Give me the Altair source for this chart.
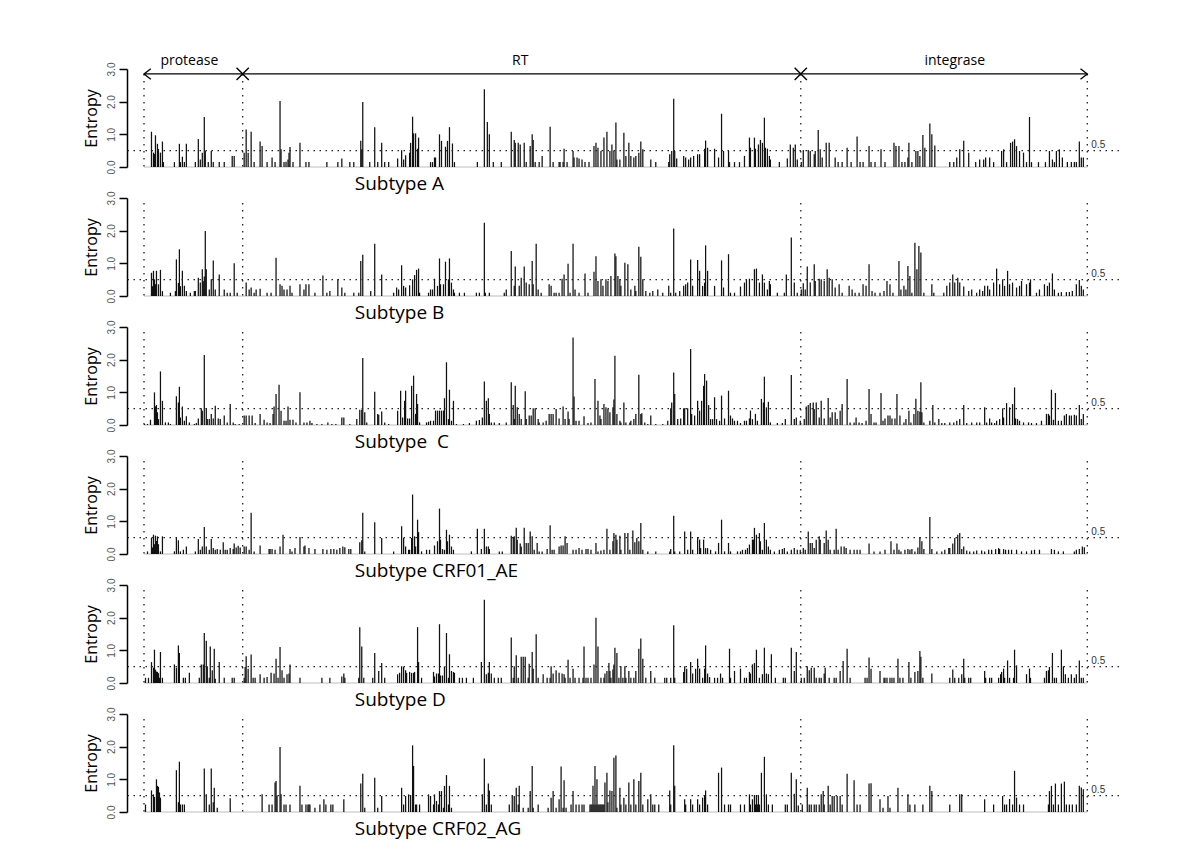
import altair as alt
import pandas as pd

# ---------------- data ----------------
SUBTYPE_LABELS = ["Subtype A", "Subtype B", "Subtype \u00a0C", "Subtype CRF01_AE",
                  "Subtype D", "Subtype CRF02_AG"]
REGION_BOUNDS = [0.5, 99.5, 659.5, 947]
REGION_NAMES = ["protease", "RT", "integrase"]
REGION_LABEL_POS = [46, 378, 814]
THRESHOLD = 0.5

ENTROPY_A = [
    (8,1.08),(10,0.44),(11,0.4),(12,0.97),(14,0.71),(15,0.55),(17,0.44),(19,0.78),(20,0.15),
    (31,0.15),(36,0.71),(37,0.15),(39,0.31),(41,0.15),(43,0.71),(52,0.15),(55,0.86),(57,0.23),(59,0.44),(61,1.53),(62,0.49),
    (65,0.15),(68,0.49),(70,0.15),(76,0.15),(81,0.15),(89,0.34),(91,0.34),
    (101,0.44),(103,1.15),(105,0.44),(108,1.08),(111,0.15),(117,0.78),(119,0.64),(124,0.15),(129,0.29),(132,0.15),(137,2.02),
    (138,0.54),(141,0.15),(143,0.16),(145,0.23),(146,0.44),(147,0.61),(150,0.15),(157,0.74),(163,0.15),(166,0.15),(184,0.15),
    (195,0.15),(199,0.26),(207,0.15),(211,0.15),(218,0.8),(219,0.54),(220,1.99),(227,0.15),(232,1.22),(235,0.15),(239,0.74),
    (242,0.15),(246,0.15),(255,0.26),(259,0.51),(261,0.23),(263,0.36),(267,0.44),(268,0.74),(270,1.54),(271,1.03),(273,1.03),
    (275,0.56),(276,0.9),(288,0.15),(290,0.15),(292,0.29),(293,0.29),(297,1.0),(299,0.8),(303,0.62),(305,0.8),(307,1.22),
    (310,0.72),(312,0.15),(335,0.15),(342,2.38),(345,1.38),(347,1.0),(351,0.15),(359,0.15),(369,1.08),(372,0.83),(373,0.74),
    (376,0.74),(378,0.69),(382,0.74),(384,0.15),(388,0.64),(390,1.0),(391,0.83),(393,0.15),(397,0.15),(400,0.34),(408,1.23),
    (411,0.15),(417,0.15),(418,0.15),(421,0.15),(422,0.56),(425,0.15),(431,0.49),(432,0.29),(435,0.29),(437,0.26),(440,0.23),
    (443,0.15),(447,0.15),(452,0.64),(454,0.74),
    (456,0.59),(459,0.49),(462,0.9),(465,1.08),(468,0.49),(470,0.69),(472,0.49),(474,1.36),(475,0.23),(478,0.23),(482,1.05),
    (484,0.34),(487,0.74),(489,0.34),(492,0.29),(494,0.34),(497,0.44),(499,0.78),(501,0.54),(509,0.23),(514,0.15),(527,0.15),
    (528,0.39),(530,0.49),(532,2.09),(533,0.49),(535,0.26),(542,0.34),(544,0.29),(547,0.23),(549,0.29),(552,0.34),(556,0.39),
    (558,0.39),(563,0.56),(564,0.81),(566,0.59),(573,0.56),(577,0.29),(580,1.63),(582,0.49),(587,0.49),(588,0.15),(593,0.15),
    (598,0.15),(603,0.34),(608,0.9),(609,0.59),(613,0.9),(614,0.56),(617,0.69),(619,0.83),(621,0.74),(623,1.51),(624,0.59),
    (626,0.56),(628,0.34),(629,0.23),(638,0.15),(646,0.26),(649,0.69),(652,0.59),(654,0.69),(656,0.23),(660,0.15),
    (662,0.52),(667,0.52),(669,0.49),(673,0.39),(674,0.49),(677,1.13),(679,0.54),(681,0.29),(685,0.74),(688,0.74),(694,0.29),
    (697,0.15),(701,0.15),(706,0.59),(710,0.15),(716,0.93),(719,0.15),(722,0.15),(728,0.64),(730,0.15),(734,0.15),(740,0.54),
    (744,0.15),(753,0.74),(755,0.64),(758,0.64),(761,0.15),(764,0.15),(767,0.29),(768,0.74),(771,0.15),(775,0.49),(777,0.49),
    (779,0.34),(782,0.98),(784,0.59),(789,1.33),(791,1.0),(794,0.66),(809,0.15),(813,0.15),(816,0.29),(819,0.54),(823,0.8),
    (828,0.44),(835,0.15),(839,0.23),(843,0.23),(845,0.29),(849,0.29),(853,0.15),(861,0.49),(863,0.54),(866,0.15),(870,0.74),
    (872,0.78),(874,0.85),(876,0.64),(879,0.49),(883,0.44),(886,0.15),(889,1.53),(891,0.15),(898,0.15),(905,0.15),(909,0.49),
    (912,0.23),(914,0.15),(916,0.49),(919,0.54),(922,0.29),(927,0.15),(931,0.15),(934,0.15),(936,0.15),(939,0.78),(941,0.29),
    (943,0.29),
]

ENTROPY_B = [
    (8,0.71),(9,0.3),(10,0.77),(11,0.51),(12,0.36),(13,0.77),(15,0.36),(17,0.8),(19,0.15),(27,0.1),(32,0.15),(33,1.12),(35,0.4),
    (36,1.43),(37,0.3),(39,0.77),(41,0.31),(43,0.15),(47,0.1),(51,0.15),(52,0.15),(55,0.56),(57,0.41),(59,0.82),(60,0.45),
    (61,0.6),(62,1.99),(63,0.82),(66,0.2),(68,0.51),(70,1.09),(72,0.2),(76,0.66),(81,0.2),(84,0.1),(87,0.1),(91,1.0),(94,0.1),
    (103,0.41),(106,0.2),(108,0.26),(111,0.1),(113,0.2),(117,0.22),(124,0.1),(128,0.1),(133,1.17),(137,0.36),(139,0.31),
    (141,0.2),(144,0.2),(147,0.31),(149,0.1),(157,0.36),(161,0.2),(163,0.36),(166,0.36),(172,0.1),(180,0.63),(184,0.1),
    (187,0.15),(195,0.51),(199,0.26),(202,0.1),(211,0.1),(216,0.1),(218,1.07),(220,1.26),(228,0.15),(232,1.6),(239,0.66),
    (251,0.1),(254,0.26),(256,0.2),(259,0.94),(261,0.31),(263,0.26),(267,0.33),(270,0.51),(272,0.64),(274,0.8),(276,0.84),
    (277,0.1),(286,0.1),(288,0.2),(290,0.2),(292,0.53),(295,0.31),(297,1.15),(298,0.36),(301,0.36),(303,1.05),(306,0.51),
    (307,1.15),(309,0.41),(311,0.2),(312,0.1),(317,0.1),(322,0.1),(334,0.1),(337,0.1),(342,2.24),(343,0.1),(347,0.1),(362,0.1),
    (364,0.2),(369,1.38),(372,0.31),(373,0.9),(377,0.31),(379,0.56),(382,0.9),(384,0.41),(387,0.36),(390,1.07),(391,0.36),
    (394,1.6),(396,0.2),(399,0.1),(407,0.36),(409,0.31),(412,0.1),(414,0.1),(417,0.1),(420,0.53),(422,0.66),(426,0.99),
    (428,0.1),(431,1.6),(433,0.2),(437,0.1),(443,0.69),(446,0.1),(452,0.74),(454,1.22),
    (456,0.46),(459,0.51),(461,0.31),(464,0.51),(466,0.46),(469,0.61),(473,1.3),(474,1.22),(476,0.61),(478,0.51),(479,0.31),
    (483,1.02),(486,0.97),(489,0.2),(493,0.31),(494,0.15),(497,1.51),(499,1.2),(501,0.51),(504,0.15),(508,0.1),(511,0.15),
    (516,0.2),(521,0.1),(527,0.31),(529,0.1),(532,2.07),(534,0.1),(538,0.15),(542,0.31),(544,0.36),(546,0.41),(549,1.12),
    (551,0.31),(556,1.1),(558,0.77),(561,0.31),(563,0.41),(564,1.55),(566,0.77),(573,0.31),(580,1.09),(582,0.26),(587,1.28),
    (589,0.1),(593,0.1),(599,0.29),(603,0.41),(605,0.49),(608,0.53),(613,0.82),(615,0.84),(618,0.41),(621,0.66),(623,0.41),
    (626,0.2),(628,0.46),(629,0.36),(636,0.1),(643,0.1),(645,0.66),(650,1.79),(653,0.41),(656,0.1),
    (660,0.2),(662,0.39),(664,0.2),(666,0.9),(669,0.41),(673,0.97),(674,0.46),(678,0.53),(680,0.51),(683,0.46),(686,0.82),
    (688,0.56),(691,0.51),(694,0.26),(698,0.36),(701,0.1),(708,0.31),(711,0.2),(714,0.1),(718,0.1),(722,0.36),(725,0.31),
    (728,0.97),(731,0.15),(734,0.1),(739,0.1),(743,0.15),(746,0.46),(749,0.36),(752,0.1),(758,1.07),(760,0.2),(763,0.31),
    (765,0.2),(767,0.92),(769,0.61),(771,0.1),(774,1.63),(776,0.82),(778,1.53),(780,1.33),(783,0.1),(791,0.36),(793,0.1),
    (803,0.1),(806,0.31),(809,0.41),(812,0.66),(814,0.41),(817,0.56),(819,0.41),(823,0.29),(828,0.15),(831,0.2),(836,0.1),
    (839,0.2),(842,0.15),(844,0.31),(847,0.31),(849,0.2),(853,0.41),(856,0.84),(859,0.36),(862,0.51),(864,0.31),(867,0.77),
    (869,0.36),(872,0.41),(876,0.26),(879,0.31),(881,0.46),(886,0.36),(889,0.41),(890,0.51),(896,0.1),(899,0.2),(904,0.36),
    (907,0.31),(909,0.41),(912,0.69),(914,0.2),(918,0.1),(921,0.12),(926,0.12),(929,0.12),(932,0.15),(936,0.36),(939,0.49),
    (941,0.31),(943,0.2),
]

ENTROPY_C = [
    (1,0.03),(4,0.03),(7,0.16),(11,1.0),(12,0.57),(13,0.61),(14,0.39),(15,0.18),(17,1.64),(19,0.74),(22,0.08),(25,0.08),
    (27,0.03),(33,0.88),(35,0.69),(36,1.17),(37,0.23),(39,0.57),(41,0.13),(43,0.27),(46,0.08),(51,0.03),(53,0.06),(55,0.2),
    (58,0.51),(59,0.44),(61,2.14),(63,0.51),(64,0.18),(66,0.18),(68,0.34),(70,0.2),(72,0.59),(75,0.2),(77,0.18),(81,0.29),
    (84,0.08),(87,0.64),(90,0.08),(92,0.03),(96,0.03),
    (101,0.29),(103,0.29),(106,0.29),(109,0.29),(112,0.06),(117,0.34),(121,0.16),(124,0.08),(127,0.06),(130,0.34),(131,0.57),
    (133,0.95),(136,1.23),(138,0.44),(141,0.13),(143,0.13),(145,0.57),(147,0.16),(150,0.16),(153,0.08),(157,1.0),(161,0.08),
    (164,0.08),(167,0.13),(169,0.06),(174,0.03),(179,0.03),(185,0.08),(189,0.03),(193,0.03),(199,0.23),(201,0.23),(207,0.03),
    (214,0.18),(217,0.47),(219,0.47),(220,2.05),(222,0.39),(224,0.08),(232,1.02),(235,0.34),(236,0.31),(239,0.41),(242,0.08),
    (246,0.03),(255,0.44),(258,1.05),(260,0.23),(262,0.74),(263,1.05),(265,0.2),(267,0.2),(269,1.2),(271,1.51),(273,0.34),
    (274,0.95),(275,0.64),(277,0.08),(284,0.08),(286,0.1),(288,0.13),(291,0.13),(293,0.44),(295,0.44),(297,0.44),(299,0.44),
    (301,0.44),(302,0.82),(304,1.92),(306,0.18),(307,1.08),(309,0.13),(311,0.74),(314,0.03),(321,0.03),(327,0.06),(334,0.13),
    (337,0.15),(340,0.23),(342,1.33),(344,0.74),(346,0.82),(347,0.34),(349,0.08),(352,0.08),(357,0.06),(364,0.08),(369,1.31),
    (371,0.61),(372,0.18),(373,1.2),(375,0.54),(377,0.34),(379,0.18),(383,1.03),(384,0.18),(387,0.29),(389,0.29),(391,0.51),
    (393,0.51),(396,0.18),(397,0.08),(401,0.08),(404,0.13),(407,0.34),(409,0.34),(411,0.34),(414,0.49),(417,0.2),(421,0.57),
    (423,0.18),(426,0.41),(427,0.18),(431,2.68),(432,0.87),(434,0.13),(437,0.13),(442,0.27),(446,0.06),(449,0.08),(453,1.41),
    (456,0.74),(458,0.29),(459,0.18),(462,0.64),(464,0.54),(466,0.49),(468,0.39),(471,0.54),(472,0.78),(473,2.12),(475,0.34),
    (478,0.13),(479,0.08),(482,0.69),(484,0.08),(488,0.08),(489,0.13),(492,0.18),(494,0.34),(497,1.54),(499,0.34),(500,0.36),
    (503,0.08),(506,0.03),(509,0.29),(514,0.03),(521,0.03),(526,0.13),(529,0.51),(530,0.69),(532,1.61),(533,0.95),(536,0.18),
    (539,0.2),(542,0.51),(543,0.51),(546,0.51),(549,2.33),(550,0.34),(553,0.29),(556,0.74),(558,0.44),(560,0.74),(562,1.2),
    (563,1.56),(565,1.36),(567,0.61),(569,0.18),(571,0.18),(573,0.85),(575,0.18),(578,0.13),(580,0.9),(583,0.2),(587,1.05),
    (589,0.29),(591,0.2),(593,0.13),(596,0.13),(599,0.06),(603,0.13),(605,0.13),(608,0.2),(609,0.44),(611,0.18),(614,0.34),
    (616,0.13),(620,0.8),(622,0.69),(623,1.48),(625,0.54),(627,0.71),(629,0.08),(636,0.06),(641,0.06),(644,0.18),(650,1.53),
    (653,0.18),(655,0.23),
    (659,0.13),(663,0.18),(665,0.57),(667,0.61),(669,0.67),(672,0.69),(673,0.49),(675,0.69),(678,0.23),(680,0.74),(683,0.2),
    (687,0.83),(689,0.23),(691,0.39),(694,0.39),(696,0.18),(699,0.44),(701,0.64),(706,1.41),(709,0.08),(713,0.08),(715,0.23),
    (718,0.08),(721,0.06),(725,0.13),(728,1.1),(730,0.34),(733,0.08),(735,0.08),(740,0.98),(742,0.13),(744,0.2),(747,0.29),
    (749,0.29),(751,0.2),(754,0.2),(756,0.95),(759,0.29),(763,0.08),(765,0.18),(768,0.44),(770,0.08),(773,0.34),(775,0.8),
    (777,0.44),(779,0.41),(780,1.31),(781,0.39),(783,0.08),(789,0.13),(792,0.61),(794,0.08),(798,0.18),(801,0.06),(804,0.06),
    (809,0.08),(813,0.08),(816,0.13),(819,0.18),(823,0.61),(826,0.06),(831,0.08),(836,0.08),(839,0.08),(844,0.54),(846,0.08),
    (849,0.2),(851,0.08),(854,0.06),(856,0.13),(859,0.18),(862,0.51),(863,0.23),(866,0.67),(869,0.54),(872,0.64),(874,1.15),
    (875,0.2),(877,0.18),(879,0.13),(883,0.08),(888,0.08),(891,0.06),(896,0.06),(901,0.13),(906,0.34),(908,0.34),(909,0.29),
    (911,1.08),(913,0.16),(915,0.98),(918,0.13),(921,0.13),(924,0.29),(926,0.34),(929,0.29),(931,0.29),(934,0.31),(936,0.29),
    (939,0.61),(941,0.18),(943,0.34),
]

ENTROPY_CRF01_AE = [
    (4,0.08),(8,0.49),(9,0.2),(10,0.59),(11,0.3),(12,0.56),(13,0.4),(14,0.54),(15,0.3),(17,0.08),(19,0.54),(31,0.08),(33,0.49),
    (35,0.42),(37,0.08),(40,0.13),(43,0.23),(52,0.08),(55,0.46),(57,0.13),(59,0.23),(61,0.83),(63,0.23),(66,0.13),(68,0.46),
    (70,0.18),(72,0.13),(74,0.15),(77,0.13),(80,0.36),(82,0.13),(84,0.13),(87,0.18),(90,0.15),(91,0.32),(93,0.2),(95,0.25),
    (97,0.2),
    (101,0.23),(103,0.23),(106,0.13),(108,1.26),(111,0.08),(117,0.26),(126,0.15),(127,0.15),(129,0.15),(132,0.13),(137,0.23),
    (140,0.59),(147,0.15),(149,0.08),(152,0.18),(157,0.52),(161,0.23),(162,0.26),(166,0.18),(172,0.15),(180,0.15),(184,0.13),
    (188,0.15),(191,0.15),(194,0.13),(197,0.18),(200,0.23),(202,0.21),(206,0.15),(208,0.15),(217,0.36),(219,0.42),(220,1.26),
    (222,0.08),(232,0.97),(239,0.49),(251,0.08),(259,0.85),(261,0.49),(263,0.23),(266,0.13),(267,0.13),(269,0.49),(270,1.82),
    (272,0.54),(273,0.23),(275,1.05),(276,0.67),(279,0.08),(284,0.13),(287,0.13),(292,0.26),(295,0.39),(297,1.39),(298,0.44),
    (300,0.15),(302,0.13),(304,0.74),(305,0.39),(307,0.59),(309,0.23),(311,0.13),(329,0.08),(335,0.77),(339,0.15),(342,0.77),
    (344,0.23),(346,0.23),(347,0.15),(357,0.08),(360,0.08),(369,0.56),(371,0.52),(372,0.54),(374,0.8),(375,0.44),(378,0.32),
    (379,0.23),(382,0.8),(384,0.34),(386,0.34),(388,0.69),(390,0.54),(392,0.13),(395,0.34),(397,0.08),(400,0.08),(405,0.15),
    (408,0.88),(410,0.13),(412,0.13),(417,0.23),(419,0.26),(421,0.26),(423,0.54),(425,0.34),(431,0.13),(434,0.13),(437,0.18),
    (440,0.13),(444,0.15),(446,0.15),(449,0.13),(454,0.34),
    (456,0.08),(459,0.11),(462,0.13),(465,0.77),(468,0.13),(471,0.39),(472,0.64),(474,0.59),(475,0.44),(478,0.56),(479,0.13),
    (483,0.64),(486,0.64),(488,0.13),(491,0.72),(493,0.36),(495,0.49),(497,0.39),(499,0.95),(501,0.13),(506,0.08),(514,0.08),
    (528,0.08),(529,0.15),(532,1.17),(533,0.08),(538,0.08),(543,0.69),(546,0.13),(549,0.69),(551,0.13),(556,0.52),(558,0.44),
    (559,0.18),(562,0.44),(564,0.18),(566,0.18),(569,0.13),(574,0.08),(577,0.34),(580,1.05),(583,0.08),(587,0.34),(589,0.08),
    (596,0.08),(599,0.08),(601,0.13),(604,0.13),(606,0.18),(608,0.29),(611,0.44),(612,0.44),(613,0.8),(615,0.59),(618,0.64),
    (619,0.39),(621,0.13),(623,0.95),(625,0.44),(627,0.23),(629,0.13),(633,0.08),(638,0.13),(641,0.15),(643,0.18),(646,0.08),
    (650,0.13),(653,0.18),(656,0.13),
    (659,0.13),(662,0.18),(664,0.13),(667,0.69),(669,0.34),(671,0.34),(673,0.18),(675,0.44),(678,0.54),(679,0.44),(683,0.34),
    (685,0.72),(687,0.44),(689,0.13),(693,0.13),(695,0.77),(697,0.13),(700,0.23),(703,0.23),(705,0.18),(709,0.13),(713,0.13),
    (716,0.13),(719,0.13),(728,0.32),(733,0.08),(739,0.08),(744,0.13),(750,0.39),(753,0.13),(756,0.32),(758,0.13),(760,0.08),
    (764,0.13),(767,0.15),(769,0.13),(771,0.15),(774,0.08),(777,0.2),(779,0.52),(781,0.39),(783,0.15),(789,1.13),(791,0.15),
    (796,0.08),(801,0.08),(804,0.13),(808,0.18),(809,0.18),(812,0.32),(814,0.49),(817,0.59),(819,0.64),(821,0.15),(823,0.23),
    (826,0.11),(829,0.08),(833,0.08),(836,0.11),(841,0.11),(844,0.08),(848,0.13),(851,0.13),(855,0.15),(858,0.18),(859,0.15),
    (863,0.15),(865,0.13),(868,0.13),(871,0.13),(876,0.13),(881,0.08),(886,0.08),(891,0.11),(894,0.13),(899,0.13),(911,0.15),
    (914,0.13),(918,0.08),(923,0.08),(934,0.08),(936,0.13),(939,0.15),(942,0.23),(944,0.21),
]

ENTROPY_D = [
    (2,0.16),(5,0.16),(8,0.64),(10,0.47),(11,1.02),(12,0.41),(13,0.35),(14,0.34),(15,0.3),(16,0.16),(17,0.95),(19,0.16),
    (31,0.57),(33,0.47),(35,1.15),(36,0.92),(40,0.16),(42,0.16),(46,0.31),(56,0.16),(58,0.57),(60,0.57),(61,1.53),(63,1.29),
    (64,0.51),(66,0.16),(67,1.12),(69,0.39),(71,1.05),(72,0.13),(76,0.64),(81,0.16),(89,0.16),(91,0.16),
    (101,0.16),(102,0.49),(103,0.82),(105,0.44),(108,0.87),(110,0.16),(112,0.16),(117,0.27),(121,0.16),(124,0.18),(128,0.31),
    (131,0.29),(133,0.74),(135,0.16),(137,1.1),(139,0.39),(141,0.16),(144,0.27),(146,0.29),(147,0.57),(157,0.16),(179,0.16),
    (187,0.16),(199,0.2),(201,0.29),(202,0.16),(216,0.16),(217,1.71),(219,1.12),(221,0.16),(230,0.16),(232,0.92),(236,0.37),
    (239,0.61),(242,0.16),(255,0.27),(257,0.31),(259,0.51),(261,0.49),(263,0.39),(264,0.31),(267,0.34),(269,0.31),(271,0.31),
    (272,0.34),(275,1.71),(276,0.64),(279,0.16),(291,0.34),(292,0.2),(294,0.29),(296,0.29),(297,1.8),(298,0.23),(300,0.23),
    (302,0.51),(304,1.53),(306,0.16),(307,0.88),(309,0.37),(311,0.34),(312,0.31),(317,0.16),(320,0.16),(324,0.16),(331,0.16),
    (339,0.64),(342,2.55),(344,0.27),(346,0.31),(347,0.64),(349,0.29),(352,0.16),(356,0.16),(359,0.16),(369,1.39),(371,0.16),
    (372,0.51),(374,0.85),(376,0.16),(379,0.8),(381,0.8),(383,0.8),(386,0.16),(387,0.59),(390,0.95),(391,0.44),(394,1.49),
    (396,0.16),(401,0.27),(405,0.16),(408,0.16),(409,0.51),(411,0.29),(414,0.39),(417,0.31),(420,0.29),(422,0.27),(423,0.16),
    (426,0.71),(428,0.16),(431,0.44),(433,0.16),(437,0.16),(441,0.16),(442,1.12),(444,0.16),(446,0.16),(449,0.16),(452,0.57),
    (454,2.0),
    (456,1.12),(459,0.16),(462,0.16),(463,0.29),(465,0.37),(467,0.61),(468,0.37),(469,0.16),(471,0.41),(472,0.57),(473,1.08),
    (475,0.92),(477,0.16),(479,0.51),(481,0.16),(483,0.51),(484,0.16),(487,0.37),(489,0.16),(492,0.16),(494,0.37),(497,1.05),
    (499,1.36),(501,0.74),(504,0.16),(509,0.37),(513,0.16),(523,0.16),(525,0.16),(529,0.16),(532,1.77),(533,0.16),(542,0.34),
    (543,0.51),(545,0.44),(549,0.64),(551,0.29),(554,0.44),(556,0.74),(558,0.44),(561,0.16),(563,0.44),(564,1.15),(566,0.29),
    (568,0.18),(573,0.16),(576,0.16),(579,0.29),(581,0.16),(588,1.05),(589,0.16),(593,0.37),(599,0.44),(603,0.16),(605,0.16),
    (608,0.34),(609,0.29),(611,0.57),(613,0.61),(615,1.02),(618,0.16),(621,0.27),(623,1.08),(625,0.29),(627,0.27),(630,0.88),
    (634,0.16),(642,0.16),(644,0.16),(650,1.08),(653,0.37),(655,0.95),
    (660,0.16),(663,0.16),(666,0.51),(668,0.39),(670,0.47),(673,0.47),(675,0.16),(678,0.16),(680,0.16),(683,0.29),(684,0.47),
    (688,0.16),(693,0.16),(695,0.16),(699,0.37),(702,0.67),(706,1.05),(709,0.16),(724,0.16),(726,0.16),(728,0.78),(730,0.44),
    (739,0.37),(743,0.16),(744,0.16),(746,0.16),(749,0.16),(751,0.16),(753,0.16),(757,0.74),(759,0.16),(762,0.16),(768,0.64),
    (770,0.16),(774,0.34),(777,0.37),(779,0.98),(780,0.8),(782,0.16),(791,0.29),(809,0.16),(812,0.41),(814,0.16),(818,0.16),
    (821,0.27),(823,0.74),(824,0.16),(828,0.16),(830,0.16),(844,0.37),(845,0.16),(849,0.16),(851,0.16),(858,0.16),(860,0.27),
    (861,0.34),(863,0.44),(864,0.16),(867,0.69),(869,0.16),(873,0.16),(874,1.02),(876,0.54),(886,0.27),(889,0.44),(890,0.16),
    (904,0.16),(906,0.37),(908,0.39),(909,0.49),(912,0.92),(914,0.16),(916,0.16),(921,1.02),(923,0.51),(925,0.27),(928,0.16),
    (931,0.27),(934,0.16),(936,0.27),(939,0.69),(941,0.16),(943,0.16),
]

ENTROPY_CRF02_AG = [
    (2,0.23),(8,0.66),(10,0.54),(11,0.46),(13,1.0),(14,0.8),(15,0.77),(16,0.6),(17,0.44),(33,1.28),(35,0.3),(36,1.54),
    (37,0.23),(39,0.23),(41,0.23),(61,1.33),(63,0.54),(66,0.23),(68,1.33),(70,0.3),(71,0.74),(74,0.13),(87,0.42),
    (119,0.54),(126,0.23),(129,0.23),(132,0.9),(133,0.95),(134,0.5),(137,1.99),(138,0.54),(141,0.23),(143,0.23),(147,0.23),
    (157,0.8),(159,0.23),(163,0.23),(165,0.23),(166,0.23),(167,0.23),(172,0.13),(177,0.23),(181,0.39),(183,0.23),(188,0.23),
    (190,0.23),(201,0.39),(218,0.87),(220,1.17),(222,0.13),(232,1.05),(235,0.13),(239,0.49),(259,0.74),(261,0.23),(263,0.49),
    (266,0.54),(268,0.52),(270,2.04),(271,1.41),(273,0.23),(274,0.23),(277,0.23),(286,0.54),(288,0.49),(291,0.23),(292,0.54),
    (294,0.34),(296,0.23),(297,0.64),(299,0.64),(301,0.13),(302,0.8),(304,1.13),(306,0.23),(307,0.8),(309,0.13),(340,0.54),
    (342,1.64),(344,0.23),(346,0.87),(347,0.66),(349,0.23),(367,0.23),(370,0.49),(372,0.49),(374,0.74),(376,0.23),(377,0.8),
    (381,0.13),(386,0.13),(388,0.64),(390,1.41),(391,0.13),(396,0.23),(406,0.13),(409,0.44),(411,0.64),(414,0.13),(417,0.39),
    (419,1.39),(421,0.13),(422,0.97),(424,0.13),(429,0.23),(431,0.64),(434,0.23),(437,0.23),(440,0.23),(442,0.23),(448,0.23),
    (449,0.23),(450,0.23),(451,0.8),(452,0.23),(453,1.41),(454,0.23),(455,1.0),
    (456,0.23),(457,0.23),(458,0.23),(459,0.23),(460,0.23),(461,0.23),(462,0.23),(463,0.9),(465,1.2),(466,0.3),(468,0.66),
    (470,0.64),(472,1.66),(474,1.73),(475,0.13),(478,0.74),(479,0.23),(482,0.44),(484,0.23),(487,0.9),(489,0.23),(492,1.0),
    (494,0.23),(497,0.95),(499,1.2),(501,0.23),(506,0.39),(509,0.54),(511,0.23),(513,0.23),(517,0.23),(528,0.66),(529,0.23),
    (532,2.04),(533,0.8),(543,0.39),(544,0.23),(549,0.39),(551,0.23),(556,0.39),(558,0.23),(561,0.44),(563,0.49),(564,0.66),
    (566,0.23),(577,1.2),(580,1.36),(583,0.23),(587,0.23),(589,0.23),(599,0.23),(603,0.23),(608,0.54),(609,0.23),(611,0.39),
    (613,0.52),(614,0.23),(615,0.52),(616,0.23),(617,0.49),(618,0.23),(620,1.2),(623,1.69),(625,0.54),(627,0.23),(631,0.23),
    (644,0.23),(646,0.23),(650,1.2),(653,0.56),(655,1.0),(657,0.2),
    (661,0.23),(666,0.74),(668,0.23),(670,0.23),(673,0.23),(675,0.23),(678,0.23),(680,0.54),(682,0.64),(683,0.23),(687,0.8),
    (689,0.23),(691,0.49),(693,0.49),(696,0.49),(699,0.49),(701,0.23),(706,1.17),(713,0.97),(716,0.23),(719,0.23),(728,0.87),
    (730,0.88),(739,0.39),(742,0.13),(747,0.49),(749,0.13),(757,0.74),(767,0.54),(769,0.23),(774,0.23),(782,0.23),(789,0.8),
    (791,0.64),(809,0.23),(819,0.54),(821,0.54),(844,0.39),(853,0.23),(862,0.49),(864,0.23),(866,0.23),(869,0.4),(872,0.23),
    (874,1.26),(876,0.44),(879,0.23),(883,0.23),(908,0.23),(909,0.64),(911,0.8),(913,0.23),(915,0.87),(918,0.23),(921,0.87),
    (924,0.93),(926,0.23),(929,0.23),(932,0.23),(936,0.23),(939,0.8),(941,0.75),(943,0.7),
]

PANELS = [ENTROPY_A, ENTROPY_B, ENTROPY_C, ENTROPY_CRF01_AE, ENTROPY_D, ENTROPY_CRF02_AG]

# ---------------- chart ----------------
W, H = 992, 98
X_DOMAIN = [-16.56, 978.8]
TOP_LINE = 2.85

xs = alt.Scale(domain=X_DOMAIN, nice=False, zero=False)
ys = alt.Scale(domain=[0, 3], nice=False, zero=False)

y_axis = alt.Axis(values=[0, 1, 2, 3], format=".1f", title="Entropy",
                  titleFont="Open Sans", titleFontSize=16, titleFontWeight="normal",
                  titleColor="black", titlePadding=7,
                  labelFont="Liberation Sans", labelFontSize=10, labelColor="#555555",
                  labelAngle=270, labelPadding=3,
                  tickSize=8, tickWidth=1.5, tickColor="black",
                  domainColor="black", domainWidth=1.5, grid=False)


def X(field="pos"):
    return alt.X(f"{field}:Q", scale=xs, axis=None)


def Y(field="val"):
    return alt.Y(f"{field}:Q", scale=ys, axis=y_axis)


def panel(idx):
    pairs = PANELS[idx]
    df = pd.DataFrame(pairs, columns=["pos", "val"])
    df["zero"] = 0.0

    base_line = alt.Chart(pd.DataFrame({"pos": [REGION_BOUNDS[0]], "pos2": [REGION_BOUNDS[-1]],
                                        "val": [0.0]})).mark_rule(
        color="#bdbdbd", strokeWidth=1).encode(x=X(), x2="pos2:Q", y=Y())

    bars = alt.Chart(df).mark_rule(color="#111111", strokeWidth=1.25).encode(
        x=X(), y=Y(), y2="zero:Q")

    hline = alt.Chart(pd.DataFrame({"val": [THRESHOLD]})).mark_rule(
        color="#222222", strokeWidth=1.2, strokeDash=[1.5, 4.5]).encode(y=Y())

    vdf = pd.DataFrame({"pos": REGION_BOUNDS, "val": [TOP_LINE] * 4, "zero": [0.0] * 4})
    vlines = alt.Chart(vdf).mark_rule(
        color="#222222", strokeWidth=1.3, strokeDash=[1.5, 5.5]).encode(
        x=X(), y=Y(), y2="zero:Q")

    thr_label = alt.Chart(pd.DataFrame({"pos": [951], "val": [0.68], "t": ["0.5"]})).mark_text(
        align="left", baseline="middle", fontSize=10, font="Liberation Sans", color="#333333").encode(
        x=X(), y=Y(), text="t:N")

    title = alt.Chart(pd.DataFrame({"pos": [212], "val": [-0.53], "t": [SUBTYPE_LABELS[idx]]})).mark_text(
        align="left", baseline="middle", fontSize=19, font="Open Sans", color="black").encode(
        x=X(), y=Y(), text="t:N")

    layers = [base_line, bars, hline, vlines, thr_label, title]

    if idx == 0:
        arrow_line = alt.Chart(pd.DataFrame({"pos": [REGION_BOUNDS[0]], "pos2": [REGION_BOUNDS[-1]],
                                             "val": [TOP_LINE]})).mark_rule(
            color="black", strokeWidth=1.3).encode(x=X(), x2="pos2:Q", y=Y())
        left_head = alt.Chart(pd.DataFrame({"pos": [REGION_BOUNDS[0]], "val": [TOP_LINE]})).mark_point(
            shape="M1.3,-1L0,0L1.3,1", size=110, filled=False, color="black", strokeWidth=1.3, opacity=1).encode(
            x=X(), y=Y())
        right_head = alt.Chart(pd.DataFrame({"pos": [REGION_BOUNDS[-1]], "val": [TOP_LINE]})).mark_point(
            shape="M-1.3,-1L0,0L-1.3,1", size=110, filled=False, color="black", strokeWidth=1.3, opacity=1).encode(
            x=X(), y=Y())
        crosses = alt.Chart(pd.DataFrame({"pos": REGION_BOUNDS[1:3], "val": [TOP_LINE] * 2})).mark_point(
            shape="M-1,-1L1,1M-1,1L1,-1", size=150, filled=False, color="black", strokeWidth=1.4, opacity=1).encode(
            x=X(), y=Y())
        names = alt.Chart(pd.DataFrame({"pos": REGION_LABEL_POS, "val": [3.25] * 3, "t": REGION_NAMES})).mark_text(
            align="center", baseline="middle", fontSize=14, font="Open Sans", color="black").encode(
            x=X(), y=Y(), text="t:N")
        layers += [arrow_line, left_head, right_head, crosses, names]

    return alt.layer(*layers).properties(width=W, height=H)


chart = alt.vconcat(*[panel(i) for i in range(6)], spacing=31, bounds="flush").properties(
    padding={"left": 75, "top": 45, "right": 5, "bottom": 5},
    background="white",
).configure_view(stroke=None)

chart.save("out.html", embed_options={"renderer": "svg", "actions": False})
